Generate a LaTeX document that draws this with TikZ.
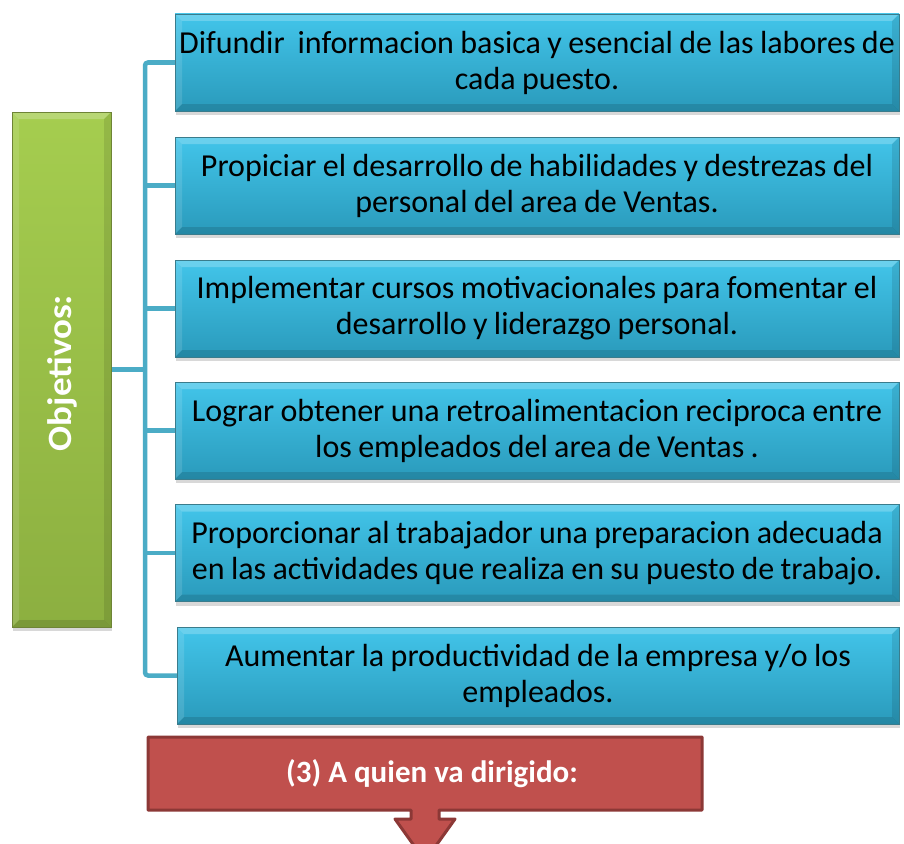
\documentclass[tikz,border=0pt]{standalone}
\usepackage{fontspec}
\setmainfont{Carlito}
\usetikzlibrary{shadows}
\newcommand\tightspaces{\spaceskip=0.2em\relax}
\definecolor{btop}{HTML}{42C5EA}
\definecolor{bbot}{HTML}{2A9ABB}
\definecolor{bline}{HTML}{3A7C8C}
\definecolor{connc}{HTML}{4BACC6}
\definecolor{gtop}{HTML}{A5CD4F}
\definecolor{gbot}{HTML}{8CAF40}
\definecolor{gline}{HTML}{6E8436}
\definecolor{rfill}{HTML}{C0504D}
\definecolor{rline}{HTML}{8C3836}
\begin{document}
\begin{tikzpicture}[x=1pt,y=-1pt,
  bevel/.style={path picture={
    \fill[white,opacity=0.22] (path picture bounding box.north west) -- (path picture bounding box.north east) -- ([xshift=-7pt,yshift=-7pt]path picture bounding box.north east) -- ([xshift=7pt,yshift=-7pt]path picture bounding box.north west) -- cycle;
    \fill[white,opacity=0.12] (path picture bounding box.north west) -- (path picture bounding box.south west) -- ([xshift=7pt,yshift=7pt]path picture bounding box.south west) -- ([xshift=7pt,yshift=-7pt]path picture bounding box.north west) -- cycle;
    \fill[black,opacity=0.12] (path picture bounding box.south west) -- (path picture bounding box.south east) -- ([xshift=-7pt,yshift=7pt]path picture bounding box.south east) -- ([xshift=7pt,yshift=7pt]path picture bounding box.south west) -- cycle;
    \fill[black,opacity=0.10] (path picture bounding box.north east) -- (path picture bounding box.south east) -- ([xshift=-7pt,yshift=7pt]path picture bounding box.south east) -- ([xshift=-7pt,yshift=-7pt]path picture bounding box.north east) -- cycle;
  }},
  objbox/.style={draw=bline, line width=0.8pt, top color=btop, bottom color=bbot, bevel,
    minimum width=724pt, minimum height=97pt, align=center, inner sep=0pt,
    font=\fontsize{32}{36}\selectfont\tightspaces,
    drop shadow={shadow xshift=1pt,shadow yshift=-4pt,opacity=0.3}},
  mainbox/.style={draw=gline, line width=0.8pt, top color=gtop, bottom color=gbot, bevel,
    minimum width=99pt, minimum height=515pt, inner sep=0pt,
    drop shadow={shadow xshift=1pt,shadow yshift=-4pt,opacity=0.3}},
  conn/.style={draw=connc, line width=4.5pt, rounded corners=3pt},
  redshape/.style={fill=rfill, draw=rline, line width=3pt, line join=round}
]
\clip (0,0) rectangle (904,843);
\fill[white] (0,0) rectangle (904,843);

\coordinate (T) at (145,0);
\path
  (537,62.5) coordinate (c1)
  (537,185.5) coordinate (c2)
  (537,308.5) coordinate (c3)
  (537,430.5) coordinate (c4)
  (537,553) coordinate (c5)
  (538,675.5) coordinate (c6);

% connectors
\draw[conn] (175,62.5) coordinate (w1) -- (w1 -| T) |- (177,675.5) coordinate (w6);
\foreach \i in {2,3,4,5}{
  \draw[conn] (c\i -| T) -- ++(32,0);
}
\draw[conn] (111,369.5) coordinate (ge) -- (ge -| T);

% boxes
\node[mainbox] (G) at (61.5,369.5) {};
\node[rotate=90, text=white, font=\bfseries\fontsize{37}{40}\selectfont] (GT) at (62,373) {\scalebox{1}[0.92]{Objetivos:}};

\node[objbox] (B1) at (c1) {Difundir\ \ informacion basica y esencial de las labores de\\ cada puesto.};
\node[objbox] (B2) at (c2) {Propiciar el desarrollo de habilidades y destrezas del\\ personal del area de Ventas.};
\node[objbox] (B3) at (c3) {Implementar cursos motivacionales para fomentar el\\ desarrollo y liderazgo personal.};
\node[objbox] (B4) at (c4) {Lograr obtener una retroalimentacion reciproca entre\\ los empleados del area de Ventas .};
\node[objbox] (B5) at (c5) {Proporcionar al trabajador una preparacion adecuada\\ en las actividades que realiza en su puesto de trabajo.};
\node[objbox, minimum width=722pt] (B6) at (c6) {Aumentar la productividad de la empresa y/o los\\ empleados.};

% red callout
\path[redshape] (148,737) -- (702,737) -- (702,810) -- (439,810) -- (439,819) -- (455,819)
  -- (425,861) -- (395,819) -- (411,819) -- (411,810) -- (148,810) -- cycle;
\node[text=white, font=\bfseries\fontsize{31}{34}\selectfont] (R) at (432,774) {(3) A quien va dirigido:};
\end{tikzpicture}
\end{document}
